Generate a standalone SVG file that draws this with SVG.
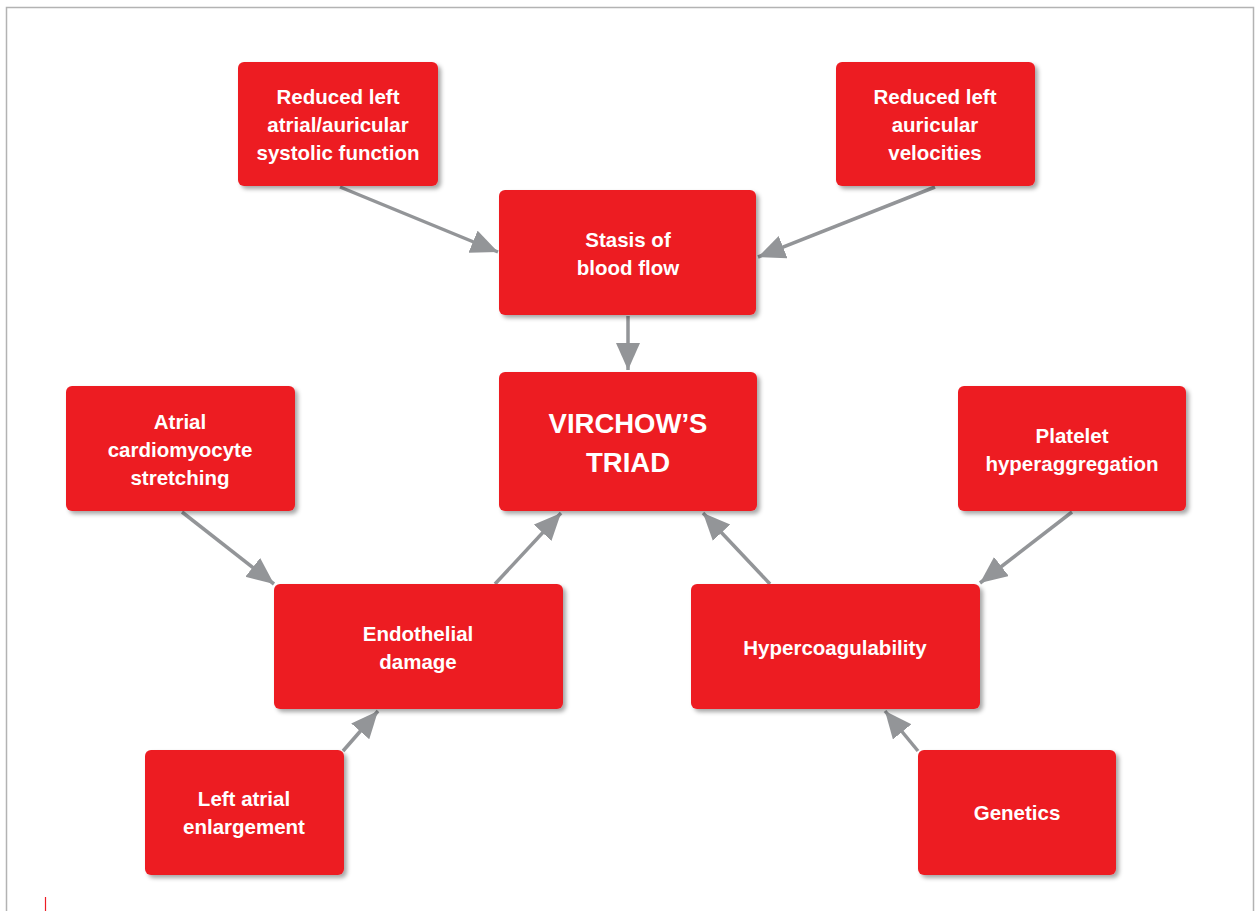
<svg xmlns="http://www.w3.org/2000/svg" width="1255" height="911" viewBox="0 0 1255 911">
<style>
.node rect{fill:#ED1C24;filter:url(#sh)}
.node text{fill:#fff;font-family:"Liberation Sans",Arial,sans-serif;font-weight:bold;font-size:20.5px;text-anchor:middle}
.node text.big{font-size:27.5px}
.conn line{stroke:#939598;stroke-width:3.5;marker-end:url(#ah)}
</style>
<defs>
<filter id="sh" x="-10%" y="-10%" width="125%" height="130%">
<feDropShadow dx="3" dy="3" stdDeviation="2" flood-color="#000" flood-opacity="0.35"/>
</filter>
<marker id="ah" markerUnits="userSpaceOnUse" markerWidth="30" markerHeight="26" refX="27" refY="12" orient="auto">
<path d="M0,0 L27,12 L0,24 z" fill="#939598"/>
</marker>
</defs>
<rect x="0" y="0" width="1255" height="911" fill="#fff"/>
<path d="M6.5,911 V7.5 H1253.5 V911" fill="none" stroke="#b3b3b3" stroke-width="1.5"/>
<line x1="45.5" y1="897" x2="45.5" y2="911" stroke="#ED1C24" stroke-width="1.2"/>
<g class="conn">
<line x1="340" y1="187" x2="498" y2="252"/>
<line x1="935" y1="187" x2="758" y2="257"/>
<line x1="628" y1="316" x2="628" y2="370"/>
<line x1="182" y1="512" x2="274" y2="584"/>
<line x1="495" y1="584" x2="561" y2="513"/>
<line x1="770" y1="584" x2="703" y2="513"/>
<line x1="1072" y1="512" x2="980" y2="583"/>
<line x1="343" y1="751" x2="378" y2="711"/>
<line x1="918" y1="751" x2="885" y2="711"/>
</g>
<g class="node" id="n-reduced-atrial">
<rect x="238" y="62" width="200" height="124" rx="6"/>
<text x="338" y="104">Reduced left</text>
<text x="338" y="132">atrial/auricular</text>
<text x="338" y="160">systolic function</text>
</g>
<g class="node" id="n-reduced-velocities">
<rect x="836" y="62" width="199" height="124" rx="6"/>
<text x="935" y="104">Reduced left</text>
<text x="935" y="132">auricular</text>
<text x="935" y="160">velocities</text>
</g>
<g class="node" id="n-stasis">
<rect x="499" y="190" width="257" height="125" rx="6"/>
<text x="628" y="247">Stasis of</text>
<text x="628" y="275">blood flow</text>
</g>
<g class="node" id="n-virchow">
<rect x="499" y="372" width="258" height="139" rx="6"/>
<text class="big" x="628" y="433">VIRCHOW’S</text>
<text class="big" x="628" y="472">TRIAD</text>
</g>
<g class="node" id="n-stretching">
<rect x="66" y="386" width="229" height="125" rx="6"/>
<text x="180" y="429">Atrial</text>
<text x="180" y="457">cardiomyocyte</text>
<text x="180" y="485">stretching</text>
</g>
<g class="node" id="n-platelet">
<rect x="958" y="386" width="228" height="125" rx="6"/>
<text x="1072" y="443">Platelet</text>
<text x="1072" y="471">hyperaggregation</text>
</g>
<g class="node" id="n-endothelial">
<rect x="274" y="584" width="289" height="125" rx="6"/>
<text x="418" y="641">Endothelial</text>
<text x="418" y="669">damage</text>
</g>
<g class="node" id="n-hypercoag">
<rect x="691" y="584" width="289" height="125" rx="6"/>
<text x="835" y="655">Hypercoagulability</text>
</g>
<g class="node" id="n-enlargement">
<rect x="145" y="750" width="199" height="125" rx="6"/>
<text x="244" y="806">Left atrial</text>
<text x="244" y="834">enlargement</text>
</g>
<g class="node" id="n-genetics">
<rect x="918" y="750" width="198" height="125" rx="6"/>
<text x="1017" y="820">Genetics</text>
</g>
</svg>
